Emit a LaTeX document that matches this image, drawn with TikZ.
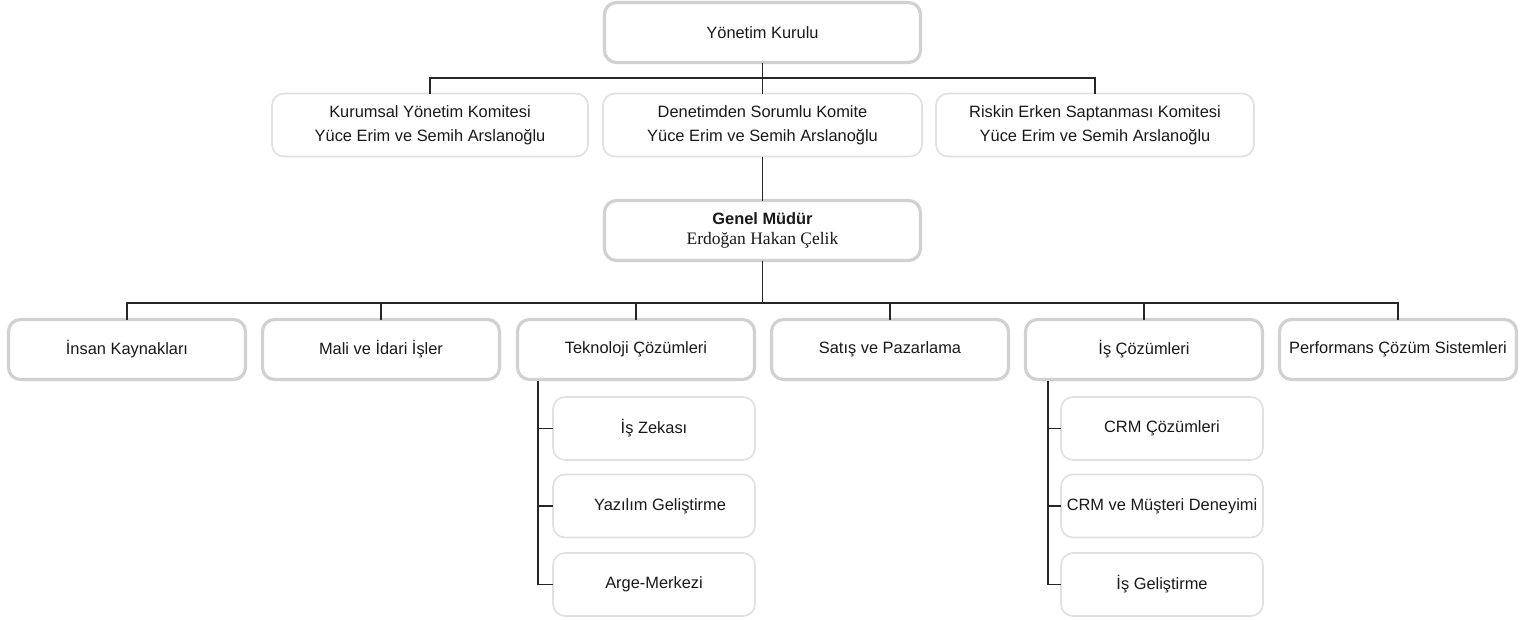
\documentclass[tikz,border=0pt]{standalone}
\usepackage{fontspec}
\setmainfont{Liberation Sans}
\newfontfamily\serifname{Liberation Serif}
\begin{document}
\begin{tikzpicture}[x=1pt,y=-1pt,
  base/.style={rounded corners=12pt, fill=white, align=center, text=black!90,
    font=\fontsize{16.4}{24}\selectfont, inner sep=0pt, outer sep=0pt},
  thickbox/.style={base, draw=black!18, line width=3.2pt, minimum height=60pt},
  thinbox/.style={base, draw=black!12, line width=1.6pt, minimum height=63pt},
  conn/.style={draw=black!85, line width=1.6pt}
]
\useasboundingbox (0,0) rectangle (1527,619);

% top
\node[thickbox, minimum width=316pt] (yk) at (762.5,32.5) {Yönetim Kurulu};

% committees
\node[thinbox, minimum width=316pt] (c1) at (430,125) {Kurumsal Yönetim Komitesi\\Yüce Erim ve Semih Arslanoğlu};
\node[thinbox, minimum width=319pt] (c2) at (762.5,125) {Denetimden Sorumlu Komite\\Yüce Erim ve Semih Arslanoğlu};
\node[thinbox, minimum width=318pt] (c3) at (1095,125) {Riskin Erken Saptanması Komitesi\\Yüce Erim ve Semih Arslanoğlu};

% general manager
\node[thickbox, minimum width=316pt, font=\fontsize{16.4}{20}\selectfont] (gm) at (762.5,230.5) {\textbf{Genel Müdür}\\{\serifname\fontsize{17.5}{20}\selectfont Erdoğan Hakan Çelik}};

% departments
\node[thickbox, minimum width=237pt] (d1) at (127,349.5) {\raisebox{-3pt}{İnsan Kaynakları}};
\node[thickbox, minimum width=237pt] (d2) at (381,349.5) {Mali ve İdari İşler};
\node[thickbox, minimum width=237pt] (d3) at (636,349.5) {Teknoloji Çözümleri};
\node[thickbox, minimum width=237pt] (d4) at (890,349.5) {\raisebox{-3pt}{Satış ve Pazarlama}};
\node[thickbox, minimum width=237pt] (d5) at (1144,349.5) {İş Çözümleri};
\node[thickbox, minimum width=237pt] (d6) at (1398,349.5) {\raisebox{2pt}{Performans Çözüm Sistemleri}};

% sub units
\node[thinbox, minimum width=202pt] (t1) at (654,428.5) {İş Zekası};
\node[thinbox, minimum width=202pt] (t2) at (654,506) {\hspace*{12pt}Yazılım Geliştirme};
\node[thinbox, minimum width=202pt] (t3) at (654,584.5) {Arge-Merkezi};

\node[thinbox, minimum width=202pt] (i1) at (1162,428.5) {CRM Çözümleri};
\node[thinbox, minimum width=202pt] (i2) at (1162,506) {CRM ve Müşteri Deneyimi};
\node[thinbox, minimum width=202pt] (i3) at (1162,584.5) {İş Geliştirme};

% bus coordinates
\coordinate (b1) at (762.5,78);
\coordinate (b2) at (762.5,303);
\coordinate (tk) at (538,381);
\coordinate (ik) at (1048,381);

% connectors
\draw[conn] (yk.south) -- (c2.north);
\draw[conn] (b1) -| (c1.north);
\draw[conn] (b1) -| (c3.north);
\draw[conn] (c2.south) -- (gm.north);
\draw[conn] (gm.south) -- (b2);
\foreach \d in {d1,d2,d3,d4,d5,d6} {\draw[conn] (b2) -| (\d.north);}

\draw[conn] (tk) |- (t3.west);
\draw[conn] (tk |- t1.west) -- (t1.west);
\draw[conn] (tk |- t2.west) -- (t2.west);
\draw[conn] (ik) |- (i3.west);
\draw[conn] (ik |- i1.west) -- (i1.west);
\draw[conn] (ik |- i2.west) -- (i2.west);
\end{tikzpicture}
\end{document}
